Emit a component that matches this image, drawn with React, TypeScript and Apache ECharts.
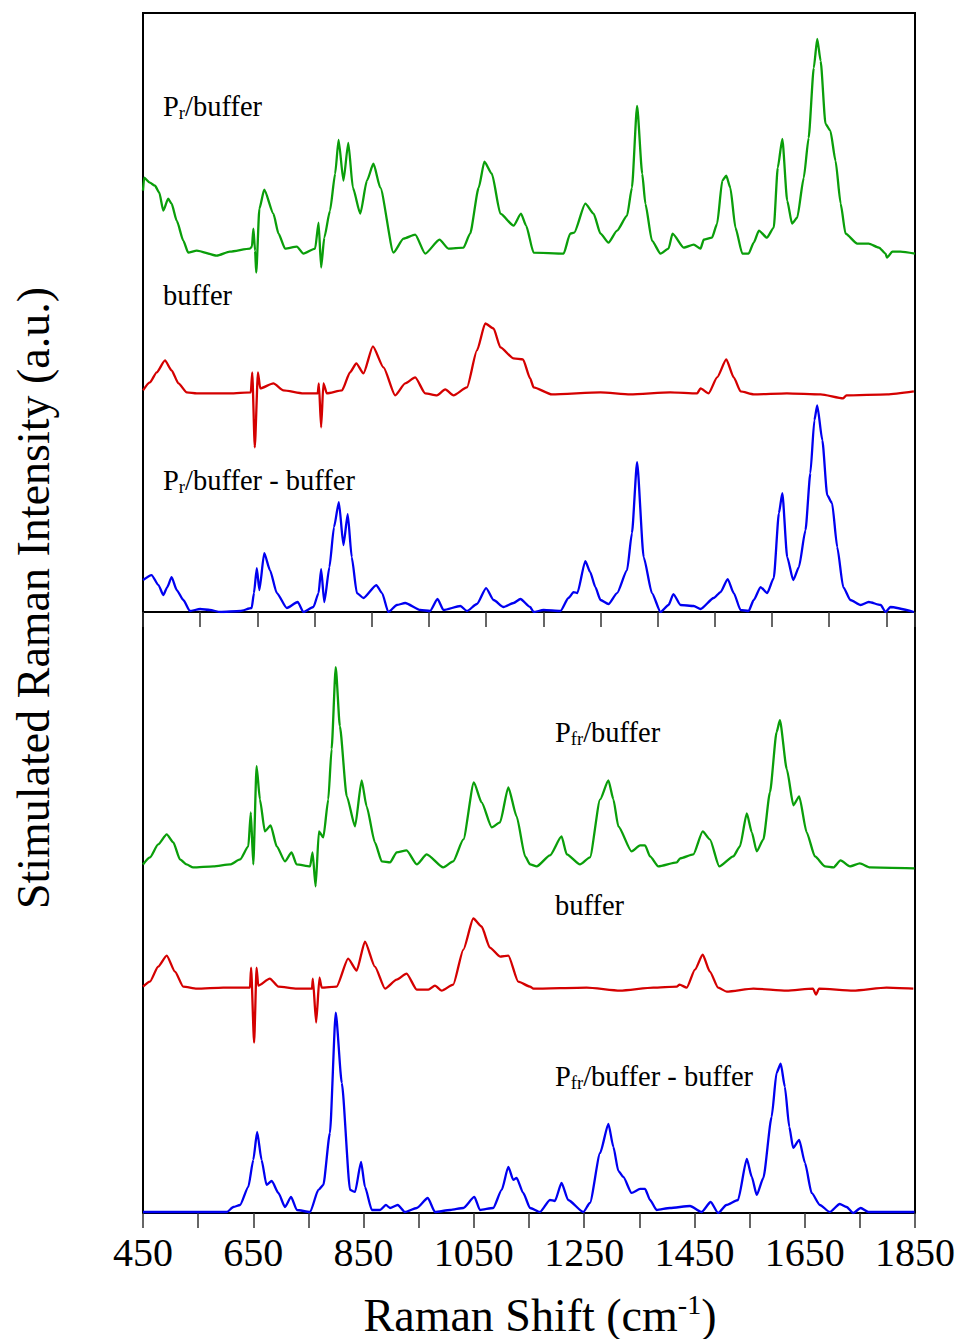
import React, { useEffect, useRef } from "react";
import * as echarts from "echarts";

const FONT = "'Times New Roman', 'Liberation Serif', serif";

// Raman shift (cm-1) vs. intensity above each trace's own baseline (a.u.)
// Upper panel: Pr sample
const prSample: [number, number][] = [
  [450, 63], [452, 76], [462, 71], [471, 68], [478.5, 61], [485.5, 43], [494, 55], [500, 50],
  [509, 33], [520.5, 13], [529, 1], [544, 3], [579, -2], [602, 2], [637, 5], [640.5, 7],
  [643, 25], [646, 3], [648, -19], [653.5, 45], [662, 64], [678, 40], [687, 20], [698.5, 5],
  [719, 7], [730.5, 0], [751, 5], [757, 31], [761.5, -14], [767, 16], [777, 43], [786, 80],
  [792, 114], [800.5, 73], [809, 111], [817, 66], [830, 40], [841.5, 73], [853, 90], [865, 66],
  [888, 1], [905.5, 15], [926, 19], [943.5, 0], [968.5, 14], [984, 5], [1010.5, 6], [1022, 20],
  [1037, 66], [1047, 92], [1060, 80], [1075, 40], [1098, 28], [1111, 40], [1120, 28], [1133, 1],
  [1185.5, 0], [1197, 20], [1204, 21], [1223.5, 50], [1238, 40], [1250, 20], [1264, 11], [1279, 23],
  [1296.5, 38], [1305, 66], [1314, 148], [1323, 80], [1328.5, 50], [1340, 13], [1355, 0], [1369, 5],
  [1376, 20], [1395.5, 6], [1413, 9], [1425, 5], [1430.5, 14], [1445, 16], [1454, 30], [1463, 73],
  [1470, 78], [1477, 66], [1486, 26], [1498, 0], [1509, 0], [1518, 11], [1527, 23], [1541, 16],
  [1553, 26], [1560, 86], [1568, 115], [1576.5, 53], [1585, 30], [1594, 36], [1605.5, 76], [1614, 116],
  [1623, 186], [1629, 215], [1635, 193], [1643.5, 130], [1652, 123], [1661, 93], [1670, 50], [1678.5, 20],
  [1699, 10], [1719, 10], [1737, 6], [1748.5, 0], [1751, -4], [1760.5, 2], [1774.5, 2], [1800, 0],
];

const prBuffer: [number, number][] = [
  [450, 3], [462, 11], [474, 21], [488.5, 33], [500, 23], [512, 10], [526.5, 1], [544, 0],
  [602, 0], [638.5, 1], [641, 21], [645.5, -54], [651, 21], [655, 5], [678, 10], [695.5, 3],
  [730.5, 0], [755.5, 0], [757.5, 10], [761.5, -34], [765.5, 10], [771.5, 0], [798, 3], [812, 21],
  [823, 30], [835.5, 20], [852, 47], [870.5, 26], [891, -2], [908.5, 10], [926, 16], [943.5, 0],
  [964, -2], [978.5, 4], [993, -2], [1016.5, 6], [1034, 43], [1048.5, 70], [1063, 65], [1075, 46],
  [1098, 35], [1114.5, 34], [1127, 15], [1133, 6], [1165, -1], [1250, 1], [1302, -1], [1372, 1],
  [1419, 0], [1425, 5], [1439, 0], [1454, 16], [1470, 34], [1483, 16], [1495, 2], [1518, -1],
  [1576, 0], [1635, -1], [1674.5, -5], [1680, -2], [1751.5, -1], [1798, 2],
];

const prDiff: [number, number][] = [
  [450, 32], [465, 37], [477, 27], [485.5, 17], [492.5, 25], [500, 35], [509, 22], [520.5, 12],
  [532, 1], [550, 3], [567, 2], [585, 0], [620, 1], [640, 4], [644, 19], [649, 44],
  [653.5, 22], [662, 59], [672, 42], [684, 19], [701.5, 4], [720.5, 10], [730.5, 0], [748, 5],
  [757, 19], [761.5, 43], [767, 10], [776, 45], [784, 85], [792.5, 110], [800.5, 67], [808, 98],
  [815, 55], [824, 19], [835.5, 14], [858, 27], [868, 19], [879, 0], [894, 7], [908.5, 9],
  [935, 2], [952, 1], [965, 13], [975.5, 2], [1005, 6], [1016.5, 1], [1034, 8], [1050, 24],
  [1063, 12], [1080.5, 5], [1098, 9], [1110, 13], [1127, 5], [1133, 0], [1150.5, 2], [1180, 1],
  [1194, 14], [1203, 20], [1209.5, 19], [1223.5, 51], [1232, 40], [1241, 25], [1250, 12], [1264, 8],
  [1279, 19], [1296.5, 42], [1305, 79], [1314, 150], [1325.5, 55], [1340, 19], [1355, 0], [1369, 7],
  [1377.5, 18], [1390, 7], [1413, 6], [1425, 3], [1448, 14], [1460, 20], [1472.5, 33], [1483, 19],
  [1495, 2], [1509, 1], [1518, 12], [1530, 25], [1541.5, 19], [1553, 34], [1562, 99], [1568, 119],
  [1576.5, 55], [1587, 32], [1597, 45], [1608.5, 82], [1617, 139], [1624, 192], [1629, 207], [1638, 172],
  [1646.5, 117], [1655, 109], [1664, 65], [1674.5, 25], [1687, 12], [1705, 7], [1719, 10], [1740, 7],
  [1748.5, 0], [1757, 5], [1798, 0],
];

// Lower panel: Pfr sample
const pfrSample: [number, number][] = [
  [450, 2], [462.5, 9], [477.5, 22], [493, 32], [505, 24], [517, 7], [529, 2], [541, -1],
  [577.5, 0], [608, 2], [626, 7], [641, 20], [645.5, 54], [650, 2], [656, 100], [662, 67],
  [671, 35], [681.5, 41], [692.5, 20], [707.5, 5], [719.5, 14], [728.5, 2], [753, 0], [757.5, 14],
  [763, -20], [769, 35], [777, 29], [786, 67], [792, 117], [799.5, 199], [807, 140], [819.5, 70],
  [834.5, 40], [846.5, 86], [855.5, 60], [870.5, 24], [883, 5], [898, 4], [910, 14], [928, 16],
  [946.5, 2], [964.5, 12], [994.5, -1], [1012.5, 5], [1031, 27], [1050, 84], [1064, 64], [1082.5, 39],
  [1097.5, 44], [1112.5, 79], [1127.5, 50], [1143, 10], [1152, 2], [1164, 0], [1188, 11], [1209, 30],
  [1218.5, 12], [1242.5, 2], [1260.5, 9], [1279, 67], [1294, 86], [1303, 67], [1312, 40], [1336, 15],
  [1351.5, 21], [1360.5, 21], [1369.5, 10], [1384.5, 0], [1418, 4], [1424, 8], [1448, 12], [1465, 35],
  [1478, 27], [1495, 0], [1520.5, 10], [1532.5, 20], [1545, 53], [1554, 34], [1563, 15], [1575, 27],
  [1587, 74], [1599, 134], [1605, 146], [1617.5, 97], [1629.5, 61], [1640, 70], [1653.5, 34], [1668.5, 10],
  [1687, 0], [1702, -1], [1715, 6], [1732, 0], [1750, 3], [1768.5, -1], [1849, -2],
];

const pfrBuffer: [number, number][] = [
  [450, 2], [462.5, 7], [477.5, 22], [493, 33], [508, 17], [523, 2], [547.5, 0], [595.5, 1],
  [644, 1], [646, 21], [651.5, -54], [656, 21], [659, 3], [680, 10], [695.5, 2], [729, 0],
  [756.5, 0], [758, 10], [764, -34], [770, 11], [774, 1], [801, 2], [822, 30], [837.5, 18],
  [852.5, 47], [870.5, 22], [889, 0], [910, 9], [928, 15], [946.5, -1], [967.5, -1], [979.5, 3],
  [991.5, -2], [1012.5, 4], [1031, 39], [1049, 70], [1064, 62], [1079, 41], [1097.5, 32], [1112.5, 33],
  [1130.5, 7], [1152, 2], [1158, 0], [1254.5, 1], [1315, -2], [1375.5, 1], [1418, 2], [1423, 4],
  [1436, 1], [1451, 19], [1465, 34], [1478, 17], [1493, 1], [1508.5, -3], [1557, 0], [1617, -2],
  [1665, 0], [1670.5, -6], [1676, 0], [1738, -2], [1798.5, 1], [1847, 0],
];

const pfrDiff: [number, number][] = [
  [450, 1], [602, 1], [614, 6], [626, 8], [641, 26], [650, 53], [657, 81], [665, 53],
  [674, 28], [683.5, 32], [695.5, 20], [707.5, 6], [718.5, 16], [729, 3], [753, 1], [768, 23],
  [777, 28], [789, 80], [799.5, 200], [810.5, 130], [825.5, 23], [834.5, 21], [845.5, 51], [852.5, 26],
  [865, 3], [880, 3], [890.5, 8], [898, 5], [912, 8], [925, 1], [946.5, 5], [966.5, 15],
  [979.5, 1], [1007, 3], [1031, 5], [1051, 16], [1061, 3], [1085, 5], [1100.5, 23], [1112.5, 46],
  [1121.5, 33], [1127.5, 35], [1139.5, 20], [1152, 5], [1170, 1], [1188, 13], [1197, 12], [1209, 30],
  [1221, 13], [1248.5, 1], [1260.5, 10], [1279, 60], [1294, 89], [1303, 66], [1312, 42], [1321, 36],
  [1336, 20], [1351.5, 24], [1360.5, 24], [1369.5, 13], [1381.5, 3], [1405.5, 5], [1442, 7], [1463, 1],
  [1479.5, 11], [1493, 0], [1508, 8], [1529, 13], [1545, 54], [1554, 36], [1563, 18], [1575, 35],
  [1590, 96], [1599, 140], [1606.5, 149], [1614, 126], [1622, 86], [1629, 65], [1640, 73], [1650.5, 50],
  [1662.5, 20], [1677.5, 8], [1695.5, 1], [1713.5, 9], [1726, 6], [1738, 0], [1751.5, 5], [1765.5, 1],
  [1849, 1],
];

// Vertical offsets used to stack the traces within each panel
const upperOffsets = { sample: 359, buffer: 219, diff: 0 };
const lowerOffsets = { sample: 346, buffer: 224, diff: 0 };

const GREEN = "#0a9e0a";
const RED = "#d40000";
const BLUE = "#0000f0";

const shift = (pts: [number, number][], off: number) => pts.map(([x, v]) => [x, v + off]);

const makeLine = (
  name: string,
  pts: [number, number][],
  off: number,
  color: string,
  idx: number
) => ({
  name,
  type: "line",
  xAxisIndex: idx,
  yAxisIndex: idx,
  data: shift(pts, off),
  showSymbol: false,
  symbol: "none",
  smooth: 0.2,
  smoothMonotone: "x",
  lineStyle: { color, width: 2.3 },
  silent: true,
});

const richLabel = {
  m: { fontSize: 28.5, lineHeight: 32, fontFamily: FONT, fill: "#000" },
  s: { fontSize: 18.5, lineHeight: 20, fontFamily: FONT, fill: "#000", verticalAlign: "bottom" },
};

const label = (x: number, y: number, text: string) => ({
  type: "text",
  left: x,
  top: y,
  style: { text, rich: richLabel, fill: "#000", font: `28px ${FONT}` },
});

export default function App() {
  const ref = useRef<HTMLDivElement>(null);

  useEffect(() => {
    document.body.style.margin = "0";
    if (!ref.current) return;
    const chart = echarts.init(ref.current, undefined, { renderer: "svg" });

    const tickStyle = { show: true, inside: false, length: 15, lineStyle: { color: "#333", width: 1.5 } };

    chart.setOption({
      animation: false,
      backgroundColor: "#fff",
      grid: [
        { left: 143, top: 13, width: 772, height: 599, show: true, borderColor: "#000", borderWidth: 2 },
        { left: 143, top: 612, width: 772, height: 601, show: true, borderColor: "#000", borderWidth: 2 },
      ],
      xAxis: [
        {
          type: "value",
          gridIndex: 0,
          min: 450,
          max: 1800,
          interval: 100,
          axisLine: { show: false },
          axisTick: tickStyle,
          axisLabel: { show: false },
          splitLine: { show: false },
        },
        {
          type: "value",
          gridIndex: 1,
          min: 450,
          max: 1850,
          interval: 100,
          axisLine: { show: false },
          axisTick: tickStyle,
          axisLabel: {
            show: true,
            interval: 1,
            showMaxLabel: true,
            margin: 19,
            fontSize: 40,
            fontFamily: FONT,
            color: "#000",
            formatter: (v: number) => ((v - 450) % 200 === 0 ? String(v) : ""),
          },
          splitLine: { show: false },
        },
      ],
      yAxis: [
        { type: "value", gridIndex: 0, min: 0, max: 600, show: false },
        { type: "value", gridIndex: 1, min: 0, max: 600, show: false },
      ],
      series: [
        makeLine("Pr/buffer", prSample, upperOffsets.sample, GREEN, 0),
        makeLine("buffer", prBuffer, upperOffsets.buffer, RED, 0),
        makeLine("Pr/buffer - buffer", prDiff, upperOffsets.diff, BLUE, 0),
        makeLine("Pfr/buffer", pfrSample, lowerOffsets.sample, GREEN, 1),
        makeLine("buffer", pfrBuffer, lowerOffsets.buffer, RED, 1),
        makeLine("Pfr/buffer - buffer", pfrDiff, lowerOffsets.diff, BLUE, 1),
      ],
      graphic: [
        label(163, 92, "{m|P}{s|r}{m|/buffer}"),
        label(163, 281, "{m|buffer}"),
        label(163, 466, "{m|P}{s|r}{m|/buffer - buffer}"),
        label(555, 718, "{m|P}{s|fr}{m|/buffer}"),
        label(555, 891, "{m|buffer}"),
        label(555, 1062, "{m|P}{s|fr}{m|/buffer - buffer}"),
        {
          type: "text",
          x: 540,
          y: 1315,
          style: {
            text: "{n|Raman Shift (cm}{p|-1}{n|)}",
            align: "center",
            verticalAlign: "middle",
            rich: {
              n: { fontSize: 46, lineHeight: 50, fontFamily: FONT, fill: "#000" },
              p: { fontSize: 28, lineHeight: 28, fontFamily: FONT, fill: "#000", verticalAlign: "top" },
            },
          },
        },
        {
          type: "text",
          x: 33,
          y: 598,
          rotation: Math.PI / 2,
          style: {
            text: "Stimulated Raman Intensity (a.u.)",
            align: "center",
            verticalAlign: "middle",
            fontSize: 46,
            fontFamily: FONT,
            fill: "#000",
          },
        },
      ],
    });

    return () => chart.dispose();
  }, []);

  return <div ref={ref} style={{ width: 958, height: 1339 }} />;
}
